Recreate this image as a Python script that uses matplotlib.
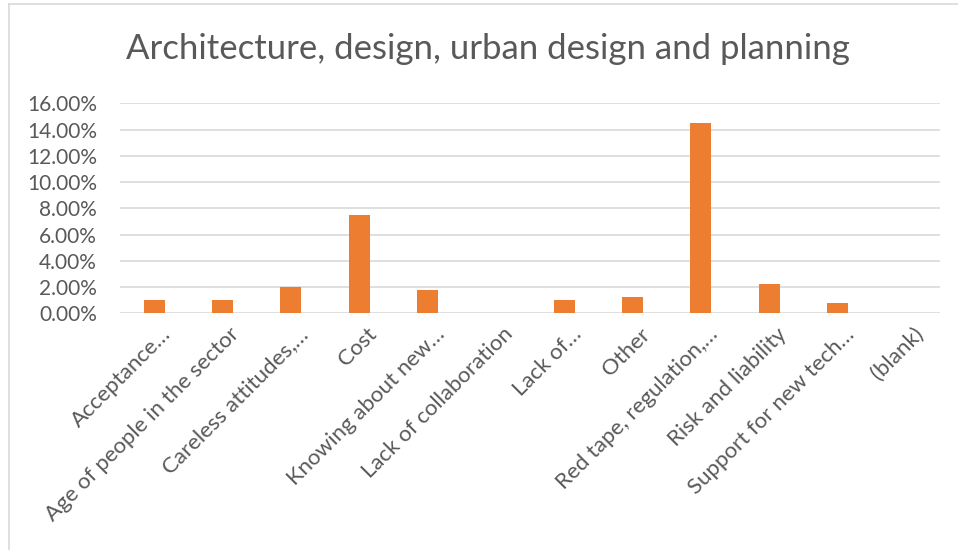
import matplotlib
matplotlib.use("Agg")
import matplotlib.pyplot as plt
from matplotlib.ticker import PercentFormatter
from matplotlib.lines import Line2D
from matplotlib.transforms import ScaledTranslation

plt.rcParams['font.family'] = ['Lato', 'DejaVu Sans']

title = "Architecture, design, urban design and planning"
categories = ["Acceptance…", "Age of people in the sector", "Careless attitudes,…",
              "Cost", "Knowing about new…", "Lack of collaboration", "Lack of…",
              "Other", "Red tape, regulation,…", "Risk and liability",
              "Support for new tech…", "(blank)"]
values = [1.0, 1.0, 2.0, 7.5, 1.75, 0.0, 1.0, 1.25, 14.5, 2.25, 0.75, 0.0]
y_ticks = [0, 2, 4, 6, 8, 10, 12, 14, 16]

text_color = "#595959"
bar_color = "#ED7D31"
grid_color = "#D9D9D9"

W, H = 958, 550
fig = plt.figure(figsize=(W / 100, H / 100), dpi=100)

# chart border (light grey, cut off at right and bottom)
fig.add_artist(Line2D([9 / W, 9 / W], [0, 1 - 4 / H], color=grid_color, lw=1.2))
fig.add_artist(Line2D([9 / W, 1], [1 - 4 / H, 1 - 4 / H], color=grid_color, lw=1.2))

ax = fig.add_axes([120 / W, 1 - 313.3 / H, 820 / W, 210 / H])
x = range(len(categories))
ax.bar(x, values, width=0.31, color=bar_color, zorder=3)

ax.set_xlim(-0.5, len(categories) - 0.5)
ax.set_ylim(0, 16)
ax.set_yticks(y_ticks)
ax.yaxis.set_major_formatter(PercentFormatter(decimals=2))
ax.grid(axis='y', color=grid_color, lw=1.2, zorder=0)
for s in ax.spines.values():
    s.set_visible(False)
ax.tick_params(axis='both', length=0, colors=text_color)
ax.tick_params(axis='y', pad=16.5, labelsize=15)
ax.tick_params(axis='x', labelsize=16)

ax.set_xticks(list(x))
ax.set_xticklabels(categories, rotation=45, ha='right', va='center',
                   rotation_mode='anchor')
offset = ScaledTranslation(14 / 100, -13 / 100, fig.dpi_scale_trans)
for lbl in ax.get_xticklabels():
    lbl.set_transform(lbl.get_transform() + offset)

fig.text(488 / W, 1 - 49 / H, title, ha='center', va='center',
         fontsize=25, color=text_color)

fig.savefig("out.png", dpi=100)
